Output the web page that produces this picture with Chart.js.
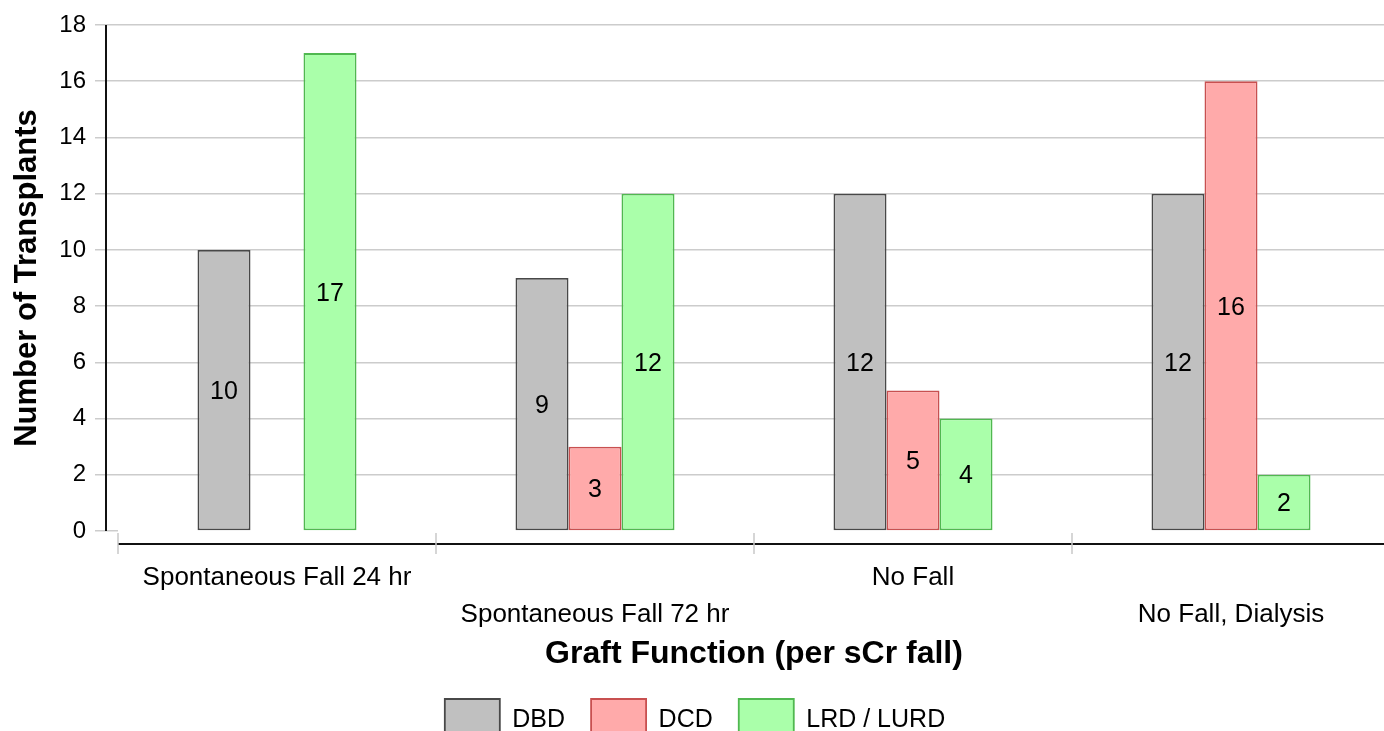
<!DOCTYPE html>
<html>
<head>
<meta charset="utf-8">
<title>Graft Function</title>
<script src="https://cdn.jsdelivr.net/npm/chart.js@4/dist/chart.umd.min.js"></script>
<style>
  html, body { margin: 0; padding: 0; background: #fff; overflow: hidden; }
  #wrap { width: 1384px; height: 731px; overflow: hidden; }
</style>
</head>
<body>
<div id="wrap"><canvas id="grafico" width="1392" height="751"></canvas></div>
<script>
const FONT = '"Liberation Sans", Arial, Helvetica, sans-serif';

// categorias e series
const categorias = ['Spontaneous Fall 24 hr', 'Spontaneous Fall 72 hr', 'No Fall', 'No Fall, Dialysis'];
const dbd = [10, 9, 12, 12];
const dcd = [0, 3, 5, 16];
const lrd = [17, 12, 4, 2];
const yTicks = [0, 2, 4, 6, 8, 10, 12, 14, 16, 18];

// eixos desenhados separados da area do grafico
const eixos = {
  id: 'eixos',
  afterDraw(chart) {
    const { ctx, chartArea: a, scales: { x } } = chart;
    ctx.save();
    ctx.strokeStyle = '#111';
    ctx.lineWidth = 2;
    ctx.beginPath();
    ctx.moveTo(a.left - 12, a.top);
    ctx.lineTo(a.left - 12, a.bottom);
    ctx.stroke();
    ctx.beginPath();
    ctx.moveTo(a.left, a.bottom + 13);
    ctx.lineTo(a.right, a.bottom + 13);
    ctx.stroke();

    // marcas nas divisas das categorias
    const w = (a.right - a.left) / categorias.length;
    ctx.strokeStyle = '#c8c8c8';
    ctx.lineWidth = 1.5;
    for (let i = 0; i <= categorias.length; i++) {
      const px = x.getPixelForValue(i) - w / 2;
      ctx.beginPath();
      ctx.moveTo(px, a.bottom + 2);
      ctx.lineTo(px, a.bottom + 23);
      ctx.stroke();
    }
    ctx.restore();
  }
};

// valores no meio de cada barra
const valores = {
  id: 'valores',
  afterDatasetsDraw(chart) {
    const ctx = chart.ctx;
    ctx.save();
    ctx.font = '25px ' + FONT;
    ctx.fillStyle = '#000';
    ctx.textAlign = 'center';
    ctx.textBaseline = 'middle';
    chart.data.datasets.forEach((ds, i) => {
      chart.getDatasetMeta(i).data.forEach((bar, j) => {
        const v = ds.data[j];
        if (!v) return;
        ctx.fillText(String(v), bar.x, (bar.y + bar.base) / 2 + 2);
      });
    });
    ctx.restore();
  }
};

const ctx = document.getElementById('grafico').getContext('2d');
new Chart(ctx, {
  type: 'bar',
  data: {
    labels: categorias,
    datasets: [
      { label: 'DBD', data: dbd, backgroundColor: '#c0c0c0', borderColor: '#484848', borderWidth: 1.8, borderSkipped: false },
      { label: 'DCD', data: dcd, backgroundColor: '#ffaaaa', borderColor: '#c85050', borderWidth: 1.8, borderSkipped: false },
      { label: 'LRD / LURD', data: lrd, backgroundColor: '#aaffaa', borderColor: '#50b850', borderWidth: 1.8, borderSkipped: false }
    ]
  },
  options: {
    responsive: false,
    animation: false,
    events: [],
    categoryPercentage: 0.5,
    barPercentage: 1.0,
    layout: { padding: { top: 25, right: 2, left: 0, bottom: 0 } },
    scales: {
      x: {
        border: { display: false },
        grid: { display: true, drawOnChartArea: false, color: 'transparent', tickLength: 22 },
        ticks: {
          autoSkip: false,
          maxRotation: 0,
          padding: 6,
          color: '#000',
          font: { family: FONT, size: 26, lineHeight: '37px' },
          callback: (val, i) => (i % 2 ? ['', categorias[i]] : categorias[i])
        },
        title: {
          display: true,
          text: 'Graft Function (per sCr fall)',
          color: '#000',
          font: { family: FONT, size: 32, weight: 'bold' },
          padding: { top: 5, bottom: 0 }
        },
        afterFit: s => { s.height = 142; }
      },
      y: {
        min: 0,
        max: 18,
        border: { display: false },
        afterBuildTicks: s => { s.ticks = yTicks.map(v => ({ value: v })); },
        grid: {
          color: c => (c.tick && c.tick.value === 0 ? 'transparent' : '#cccccc'),
          tickColor: '#cccccc',
          lineWidth: 1.5,
          tickLength: 23
        },
        ticks: { padding: 9, color: '#000', font: { family: FONT, size: 24 } },
        title: {
          display: true,
          text: 'Number of Transplants',
          color: '#000',
          font: { family: FONT, size: 31, weight: 'bold' },
          padding: { top: 9, bottom: 12 }
        },
        afterFit: s => { s.width = 118; }
      }
    },
    plugins: {
      legend: {
        position: 'bottom',
        labels: {
          boxWidth: 55,
          boxHeight: 42,
          padding: 26,
          color: '#000',
          font: { family: FONT, size: 25 }
        }
      },
      tooltip: { enabled: false }
    }
  },
  plugins: [eixos, valores]
});
</script>
</body>
</html>
